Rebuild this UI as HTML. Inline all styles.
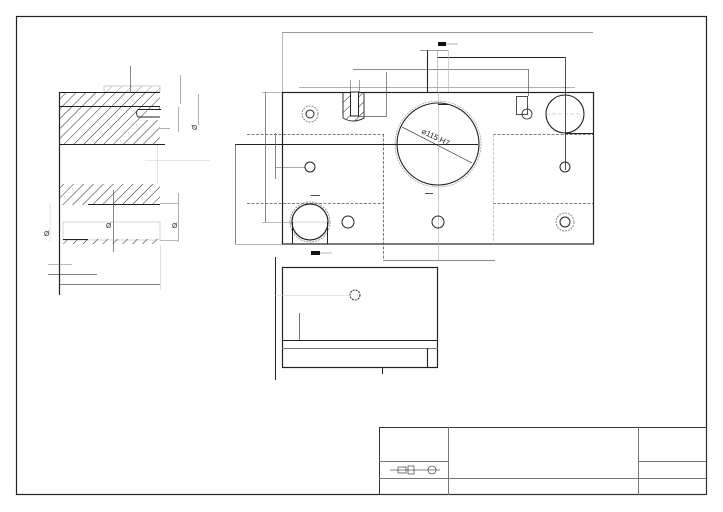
<!DOCTYPE html>
<html><head><style>html,body{margin:0;padding:0;background:#fff}svg{display:block}</style></head><body>
<svg width="723" height="512" viewBox="0 0 723 512" xmlns="http://www.w3.org/2000/svg" font-family="Liberation Sans, sans-serif">
<defs>
<pattern id="h" width="7" height="7" patternUnits="userSpaceOnUse" patternTransform="rotate(45)"><line x1="0" y1="0" x2="0" y2="7" stroke="#222" stroke-width="1"/></pattern>
<pattern id="h2" width="7" height="7" patternUnits="userSpaceOnUse" patternTransform="rotate(45)"><line x1="0" y1="0" x2="0" y2="7" stroke="#999" stroke-width="1"/></pattern>
</defs>
<rect width="723" height="512" fill="#fff"/>
<!-- frame -->
<rect x="16.5" y="16.5" width="690" height="478" fill="none" stroke="#222" stroke-width="1.2"/>
<!-- title block -->
<g stroke="#777" fill="none">
<rect x="379.5" y="427.5" width="327" height="67" stroke="#333"/>
<line x1="448.5" y1="427" x2="448.5" y2="495"/>
<line x1="638.5" y1="427" x2="638.5" y2="495"/>
<line x1="379" y1="461.5" x2="448" y2="461.5"/>
<line x1="638" y1="461.5" x2="706" y2="461.5"/>
<line x1="379" y1="478.5" x2="706" y2="478.5"/>
</g>
<g stroke="#555" fill="none" stroke-width="0.8">
<line x1="390" y1="470" x2="440" y2="470"/>
<rect x="398" y="467" width="8" height="6"/><rect x="408" y="466" width="6" height="8"/>
<circle cx="432" cy="470" r="4"/>
</g>
<!-- main view -->
<g fill="none" stroke="#222">
<line x1="282" y1="32.5" x2="593" y2="32.5" stroke="#777" stroke-width="0.8"/>
<line x1="282.5" y1="32" x2="282.5" y2="92" stroke="#999" stroke-width="0.7"/>
<line x1="299" y1="87.5" x2="575" y2="87.5" stroke="#999" stroke-width="0.7"/>
<line x1="437" y1="57.5" x2="565" y2="57.5" stroke-width="1"/>
<line x1="565.5" y1="57" x2="565.5" y2="170" stroke-width="0.8"/>
<line x1="353" y1="69.5" x2="528" y2="69.5" stroke="#666" stroke-width="0.8"/>
<line x1="528.5" y1="69" x2="528.5" y2="96" stroke="#666" stroke-width="0.8"/>
<line x1="427.5" y1="50" x2="427.5" y2="92" stroke-width="1.1"/>
<line x1="420" y1="50.5" x2="448" y2="50.5" stroke="#777" stroke-width="0.7"/>
<line x1="437.5" y1="50" x2="437.5" y2="92" stroke="#aaa" stroke-width="0.7"/>
<line x1="448.5" y1="50" x2="448.5" y2="92" stroke="#bbb" stroke-width="0.7"/>
<rect x="282.5" y="92.5" width="311" height="151.5" stroke-width="1.2"/>
<!-- dashed hidden -->
<g stroke="#555" stroke-dasharray="3,1.5" stroke-width="0.8">
<line x1="247" y1="134.5" x2="383" y2="134.5"/>
<line x1="247" y1="203.5" x2="383" y2="203.5"/>
<line x1="493" y1="134.5" x2="593" y2="134.5"/>
<line x1="493" y1="203.5" x2="593" y2="203.5"/>
<line x1="383.5" y1="134" x2="383.5" y2="260"/>
<line x1="493.5" y1="134" x2="493.5" y2="244" stroke="#bbb"/>
</g>
<line x1="383" y1="260.5" x2="495" y2="260.5" stroke="#666" stroke-width="0.8"/>
<line x1="235" y1="144.5" x2="478" y2="144.5" stroke-width="1"/>
<line x1="438.5" y1="92" x2="438.5" y2="260" stroke="#aaa" stroke-width="0.6"/>
<!-- big circle -->
<circle cx="438" cy="144" r="41" stroke-width="1.1"/>
<circle cx="438" cy="144" r="43" stroke="#999" stroke-width="0.7" stroke-dasharray="2,1"/>
<line x1="402" y1="127" x2="472" y2="163" stroke-width="0.7"/>
<text x="421" y="133" font-size="8" fill="#222" stroke="none" transform="rotate(26 421 133)">⌀115  H7</text>
<!-- holes -->
<circle cx="310" cy="114" r="4"/><circle cx="310" cy="114" r="8" stroke="#888" stroke-dasharray="2,1"/>
<circle cx="310" cy="167" r="5"/>
<circle cx="310" cy="222" r="18" stroke-width="1.2"/>
<circle cx="310" cy="222" r="20" stroke="#999" stroke-dasharray="2,1"/>
<line x1="292" y1="222" x2="330" y2="222" stroke="#aaa" stroke-width="0.6"/>
<line x1="292.5" y1="222" x2="292.5" y2="244"/><line x1="327.5" y1="222" x2="327.5" y2="244"/>
<circle cx="348" cy="222" r="6"/>
<circle cx="438" cy="222" r="6"/>
<circle cx="565" cy="222" r="5"/><circle cx="565" cy="222" r="9" stroke="#888" stroke-dasharray="2,1"/>
<circle cx="565" cy="167" r="5"/>
<circle cx="565" cy="114" r="19" stroke-width="1.1"/>
<line x1="546" y1="114" x2="585" y2="114" stroke="#aaa" stroke-width="0.6" stroke-dasharray="4,2"/>
<line x1="565" y1="133.5" x2="593" y2="133.5"/>
<rect x="516.5" y="96.5" width="11" height="18" stroke-width="0.8"/>
<circle cx="527" cy="114" r="5" stroke-width="0.8"/>
<path d="M343 92 L343 118 Q353 124 364 118 L364 92" fill="url(#h)" stroke="#333"/>
<rect x="350.5" y="92" width="8" height="24" fill="#fff" stroke-width="1"/>
<line x1="350.5" y1="80" x2="350.5" y2="92" stroke="#777" stroke-width="0.7"/><line x1="359.5" y1="80" x2="359.5" y2="92" stroke="#777" stroke-width="0.7"/>
<line x1="386.5" y1="72" x2="386.5" y2="116" stroke="#555" stroke-width="0.7"/>
<line x1="359" y1="116.5" x2="387" y2="116.5" stroke="#555" stroke-width="0.7"/>
<!-- left dims -->
<line x1="265.5" y1="92" x2="265.5" y2="222" stroke="#555" stroke-width="0.7"/>
<line x1="262" y1="92.5" x2="282" y2="92.5" stroke="#777" stroke-width="0.6"/>
<line x1="262" y1="222.5" x2="292" y2="222.5" stroke="#777" stroke-width="0.6"/>
<line x1="275.5" y1="133" x2="275.5" y2="179" stroke="#555" stroke-width="0.7"/>
<line x1="275" y1="167.5" x2="305" y2="167.5" stroke="#555" stroke-width="0.6"/>
<line x1="235.5" y1="144" x2="235.5" y2="244" stroke="#555" stroke-width="0.7"/>
<line x1="235" y1="244.5" x2="282" y2="244.5" stroke="#777" stroke-width="0.6"/>
<line x1="310.5" y1="195.5" x2="320" y2="195.5" stroke-width="0.8"/>
<line x1="425" y1="193.5" x2="433" y2="193.5" stroke-width="0.8"/>
<line x1="438" y1="104.5" x2="448" y2="104.5" stroke-width="1"/>
</g>
<rect x="438" y="42" width="8" height="4" fill="#111"/>
<line x1="446" y1="44" x2="458" y2="44" stroke="#999" stroke-width="0.7"/>
<rect x="311" y="251" width="9" height="4" fill="#111"/>
<line x1="320" y1="253" x2="332" y2="253" stroke="#999" stroke-width="0.7"/>
<!-- bottom view -->
<g fill="none" stroke="#222">
<rect x="282.5" y="267.5" width="155" height="100" stroke-width="1.2"/>
<line x1="282" y1="340.5" x2="438" y2="340.5" stroke-width="1.1"/>
<line x1="282" y1="348.5" x2="438" y2="348.5" stroke="#777"/>
<line x1="427.5" y1="348" x2="427.5" y2="368" stroke-width="1.1"/>
<line x1="299.5" y1="313" x2="299.5" y2="340" stroke="#777"/>
<line x1="382.5" y1="367" x2="382.5" y2="374"/>
<circle cx="355" cy="295" r="5" stroke-dasharray="2,1"/>
<line x1="275.5" y1="257" x2="275.5" y2="380" stroke-width="1"/>
<line x1="275" y1="295.5" x2="350" y2="295.5" stroke="#ccc" stroke-width="0.6"/>
</g>
<!-- left view -->
<g fill="none" stroke="#222">
<rect x="104" y="86" width="56" height="6" fill="url(#h2)" stroke="#aaa" stroke-width="0.6"/>
<rect x="59" y="92" width="101" height="53" fill="url(#h)" stroke="none"/>
<rect x="147" y="110" width="18" height="10" fill="#fff" stroke="none"/>
<line x1="59" y1="92.5" x2="160" y2="92.5" stroke-width="1.1"/>
<line x1="59" y1="106.5" x2="160" y2="106.5" stroke-width="1.1"/>
<line x1="59" y1="144.5" x2="165" y2="144.5" stroke-width="1.1"/>
<path d="M161 109.5 L138 109.5 Q135 113 138 117 L160 117" stroke-width="0.9"/>
<rect x="59" y="184" width="101" height="21" fill="url(#h)" stroke="none"/>
<line x1="88" y1="204.5" x2="160" y2="204.5" stroke-width="1.1"/>
<rect x="63" y="222" width="97" height="18" fill="none" stroke="#bbb" stroke-width="0.6"/>
<rect x="63" y="239" width="97" height="5" fill="url(#h)" stroke="none"/>
<line x1="63" y1="239.5" x2="88" y2="239.5" stroke-width="1"/>
<line x1="59.5" y1="92" x2="59.5" y2="295" stroke-width="1.2"/>
<line x1="113.5" y1="190" x2="113.5" y2="252" stroke="#555" stroke-width="0.7"/>
<line x1="130.5" y1="66" x2="130.5" y2="93" stroke="#555" stroke-width="0.7"/>
<line x1="180.5" y1="75" x2="180.5" y2="104" stroke="#777" stroke-width="0.6"/>
<line x1="198.5" y1="94" x2="198.5" y2="125" stroke="#777" stroke-width="0.6"/>
<line x1="178.5" y1="107" x2="178.5" y2="132" stroke="#777" stroke-width="0.6"/>
<line x1="178.5" y1="193" x2="178.5" y2="242" stroke="#777" stroke-width="0.6"/>
<line x1="160" y1="128.5" x2="170" y2="128.5" stroke="#777" stroke-width="0.6"/>
<line x1="145" y1="160.5" x2="210" y2="160.5" stroke="#ccc" stroke-width="0.6"/>
<line x1="157.5" y1="145" x2="157.5" y2="185" stroke="#aaa" stroke-width="0.6" stroke-dasharray="1,1"/>
<line x1="160" y1="203.5" x2="178" y2="203.5" stroke="#777" stroke-width="0.6"/>
<line x1="160" y1="240.5" x2="178" y2="240.5" stroke="#777" stroke-width="0.6"/>
<line x1="50" y1="203" x2="50" y2="242" stroke="#ccc" stroke-width="0.6"/>
<line x1="48" y1="264.5" x2="72" y2="264.5" stroke="#777" stroke-width="0.6"/>
<line x1="48" y1="274.5" x2="97" y2="274.5" stroke="#555" stroke-width="0.7"/>
<line x1="59" y1="284.5" x2="160" y2="284.5" stroke="#555" stroke-width="0.7"/>
<line x1="160.5" y1="245" x2="160.5" y2="290" stroke="#ccc" stroke-width="0.6"/>
</g>
<g font-size="7" fill="#333">
<text x="191" y="130" transform="rotate(-90 194 127)">Ø</text>
<text x="106" y="228">Ø</text>
<text x="172" y="228">Ø</text>
<text x="44" y="236">Ø</text>
</g>
</svg>
</body></html>
